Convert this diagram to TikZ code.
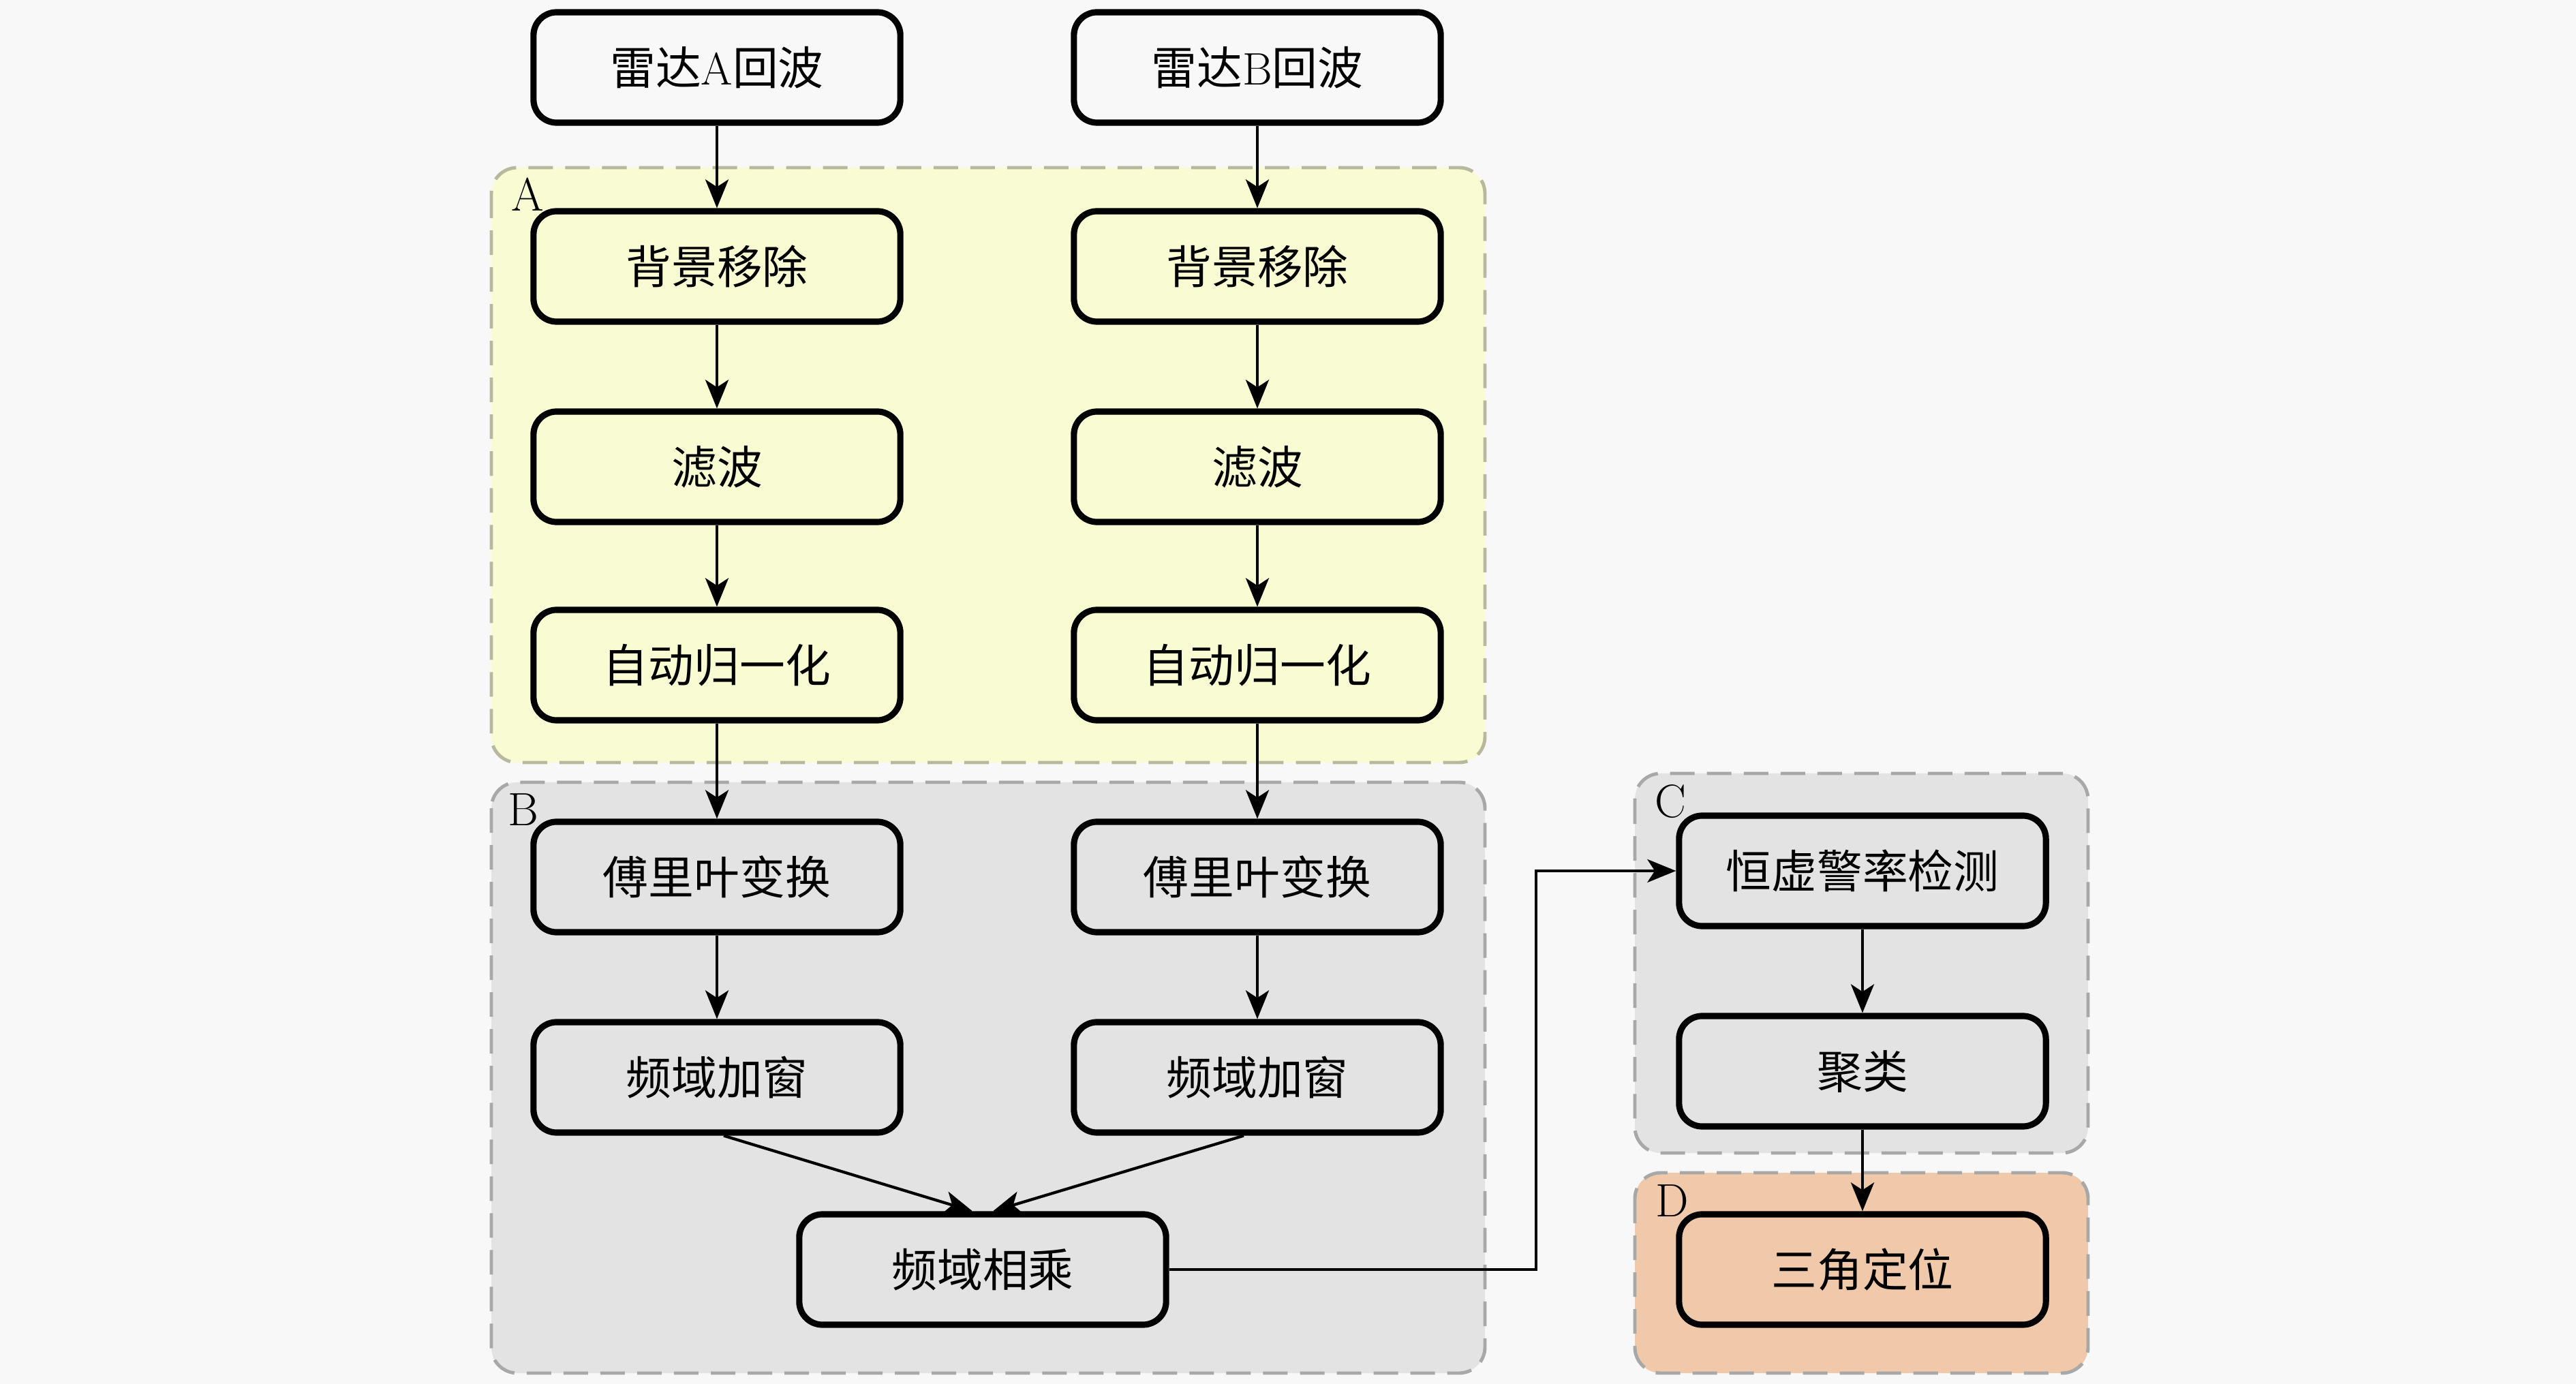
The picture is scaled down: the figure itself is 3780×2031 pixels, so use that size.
\documentclass[tikz,border=0pt]{standalone}
\usepackage{fontspec}
\newfontfamily\cjk{Noto Sans CJK SC}
\usetikzlibrary{arrows.meta}
\definecolor{bgc}{HTML}{F8F8F8}
\definecolor{ayel}{HTML}{F9FBD2}
\definecolor{bgray}{HTML}{E3E3E3}
\definecolor{dora}{HTML}{EFC9AA}
\definecolor{gborder}{HTML}{A8A8A8}
\definecolor{aborder}{HTML}{B8B89E}
\tikzset{
  procbox/.style={draw=black, line width=2.6pt, rounded corners=0.34cm,
    minimum width=5.38cm, minimum height=1.62cm, inner sep=0pt,
    font=\fontsize{19pt}{21pt}\selectfont\cjk},
  grp/.style={line width=1.4pt, rounded corners=0.38cm,
    dash pattern=on 0.36cm off 0.18cm},
  grplabel/.style={font=\fontsize{19.5pt}{20pt}\selectfont, inner sep=0pt},
  arr/.style={draw=black, line width=1.2pt,
    -{Stealth[length=0.42cm,width=0.34cm,inset=0.11cm]}}
}
\begin{document}
\begin{tikzpicture}[x=0.01cm,y=-0.01cm]
\fill[bgc] (0,0) rectangle (3780,2031);
\useasboundingbox (0,0) rectangle (3780,2031);
% groups
\draw[grp, fill=ayel, draw=aborder] (721,246) rectangle (2179,1119);
\draw[grp, fill=bgray, draw=gborder] (721,1148) rectangle (2179,2015);
\draw[grp, fill=bgray, draw=gborder] (2399,1135) rectangle (3064,1692);
\draw[grp, fill=dora, draw=gborder] (2399,1721) rectangle (3064,2015);
\node[grplabel] (la) at (774,285) {A};
\node[grplabel] (lb) at (768,1188) {B};
\node[grplabel] (lc) at (2451,1176) {C};
\node[grplabel] (ld) at (2454,1762) {D};
% column A
\node[procbox, fill=bgc] (ra) at (1052,99) {雷达{\rmfamily A}回波};
\node[procbox, fill=ayel] (bga) at (1052,391) {背景移除};
\node[procbox, fill=ayel] (lba) at (1052,685) {滤波};
\node[procbox, fill=ayel] (nma) at (1052,976) {自动归一化};
\node[procbox, fill=bgray] (fta) at (1052,1287) {傅里叶变换};
\node[procbox, fill=bgray] (fwa) at (1052,1581) {频域加窗};
% column B
\node[procbox, fill=bgc] (rb) at (1845,99) {雷达{\rmfamily B}回波};
\node[procbox, fill=ayel] (bgb) at (1845,391) {背景移除};
\node[procbox, fill=ayel] (lbb) at (1845,685) {滤波};
\node[procbox, fill=ayel] (nmb) at (1845,976) {自动归一化};
\node[procbox, fill=bgray] (ftb) at (1845,1287) {傅里叶变换};
\node[procbox, fill=bgray] (fwb) at (1845,1581) {频域加窗};
% multiply
\node[procbox, fill=bgray] (mul) at (1442,1863) {频域相乘};
% right column
\node[procbox, fill=bgray] (cf) at (2733,1278) {恒虚警率检测};
\node[procbox, fill=bgray] (cl) at (2733,1572) {聚类};
\node[procbox, fill=dora] (tri) at (2733,1863) {三角定位};
\coordinate (turn) at (2254,1863);
% arrows
\draw[arr] (ra) -- (bga);
\draw[arr] (bga) -- (lba);
\draw[arr] (lba) -- (nma);
\draw[arr] (nma) -- (fta);
\draw[arr] (fta) -- (fwa);
\draw[arr] (rb) -- (bgb);
\draw[arr] (bgb) -- (lbb);
\draw[arr] (lbb) -- (nmb);
\draw[arr] (nmb) -- (ftb);
\draw[arr] (ftb) -- (fwb);
\draw[arr] ([xshift=0.1cm]fwa.south) -- ([xshift=-0.15cm]mul.north);
\draw[arr] ([xshift=-0.2cm]fwb.south) -- ([xshift=0.15cm]mul.north);
\draw[arr] (mul.east) -- (turn) |- (cf.west);
\draw[arr] (cf) -- (cl);
\draw[arr] (cl) -- (tri);
\end{tikzpicture}
\end{document}
